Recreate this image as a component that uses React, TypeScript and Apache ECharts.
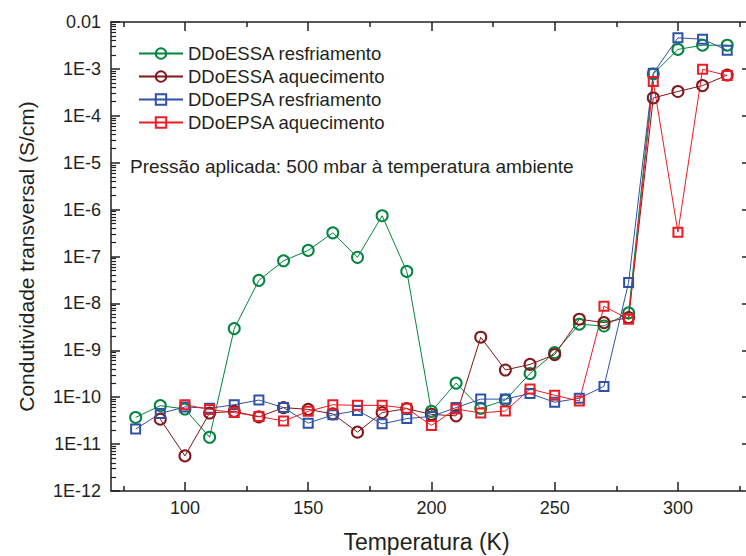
import React, { useEffect, useRef } from "react";
import * as echarts from "echarts";

// Temperature steps (K) shared by all four runs
const temperatures = [80, 90, 100, 110, 120, 130, 140, 150, 160, 170, 180, 190, 200, 210, 220, 230, 240, 250, 260, 270, 280, 290, 300, 310, 320];

// Transverse conductivity (S/cm); null = no measurement at that temperature
const ddoessaResfriamento = [3.7e-11, 6.6e-11, 5.6e-11, 1.4e-11, 2.9e-9, 3.1e-8, 8.1e-8, 1.35e-7, 3.2e-7, 9.6e-8, 7.4e-7, 4.8e-8, 5.0e-11, 2.0e-10, 5.8e-11, 8.7e-11, 3.2e-10, 8.9e-10, 3.6e-9, 3.3e-9, 6.3e-9, 7.8e-4, 2.6e-3, 3.2e-3, 3.2e-3];
const ddoessaAquecimento = [null, 3.4e-11, 5.6e-12, 4.6e-11, 5.0e-11, 3.8e-11, 6.0e-11, 5.5e-11, 4.4e-11, 1.8e-11, 4.7e-11, 5.7e-11, 4.3e-11, 4.0e-11, 1.9e-9, 3.8e-10, 5.0e-10, 8.1e-10, 4.6e-9, 3.9e-9, 5.0e-9, 2.4e-4, 3.3e-4, 4.4e-4, 7.4e-4];
const ddoepsaResfriamento = [2.1e-11, 4.5e-11, 6.2e-11, 5.8e-11, 6.9e-11, 8.7e-11, 6.0e-11, 2.8e-11, 4.2e-11, 5.2e-11, 2.7e-11, 3.5e-11, 3.9e-11, 6.0e-11, 9.1e-11, 9.1e-11, 1.2e-10, 7.8e-11, 9.5e-11, 1.7e-10, 2.8e-8, 8.1e-4, 4.6e-3, 4.3e-3, 2.5e-3];
const ddoepsaAquecimento = [null, null, 6.9e-11, 5.5e-11, 4.7e-11, 3.9e-11, 3.1e-11, 5.0e-11, 6.9e-11, 6.7e-11, 6.7e-11, 5.8e-11, 2.5e-11, 5.6e-11, 4.6e-11, 5.1e-11, 1.5e-10, 1.1e-10, 8.3e-11, 8.7e-9, 4.6e-9, 5.4e-4, 3.3e-7, 9.8e-4, 7.2e-4];

const seriesNames = ["DDoESSA resfriamento", "DDoESSA aquecimento", "DDoEPSA resfriamento", "DDoEPSA aquecimento"];

// Axis ticks
const xTickValues = [100, 150, 200, 250, 300];
const xMinorTickValues = [75, 125, 175, 225, 275, 325];
const yTickValues = [1e-12, 1e-11, 1e-10, 1e-9, 1e-8, 1e-7, 1e-6, 1e-5, 1e-4, 1e-3, 1e-2];
const yTickLabels = ["1E-12", "1E-11", "1E-10", "1E-9", "1E-8", "1E-7", "1E-6", "1E-5", "1E-4", "1E-3", "0.01"];

const annotation = "Pressão aplicada: 500 mbar à temperatura ambiente";

const FONT = "'Liberation Sans', Arial, Helvetica, sans-serif";
const INK = "#231f20";
const COLORS = ["#00853e", "#821619", "#2f52a8", "#ed1c24"];

// 2..9 × 10^k minor ticks for each decade of the log axis
const yMinorTickValues: number[] = [];
for (let k = -12; k < -2; k++) {
  for (let m = 2; m <= 9; m++) yMinorTickValues.push(m * Math.pow(10, k));
}

function yLabel(v: number): string {
  const lv = Math.log10(v);
  const idx = yTickValues.findIndex((t) => Math.abs(Math.log10(t) - lv) < 1e-6);
  return idx >= 0 ? yTickLabels[idx] : "";
}

function makeSeries(name: string, values: (number | null)[], color: string, symbol: string) {
  return {
    type: "line",
    name,
    xAxisIndex: 0,
    yAxisIndex: 0,
    data: temperatures
      .map((t, i) => (values[i] == null ? null : [t, values[i]]))
      .filter((p) => p !== null),
    symbol,
    symbolSize: symbol === "circle" ? 11 : 9,
    lineStyle: { color, width: 1 },
    itemStyle: { color: "rgba(255,255,255,0)", borderColor: color, borderWidth: 2 },
    emphasis: { disabled: true },
    z: 3,
  };
}

const lineStyle = { color: INK, width: 1.5 };

function xAxisFor(position: "bottom" | "top", major: boolean, extra: any = {}) {
  return {
    type: "value",
    position,
    min: 70,
    max: 326,
    axisLine: { show: major, onZero: false, lineStyle },
    axisTick: {
      show: true,
      inside: true,
      length: major ? 9 : 5,
      customValues: major ? xTickValues : xMinorTickValues,
      lineStyle,
    },
    axisLabel: { show: false },
    splitLine: { show: false },
    ...extra,
  };
}

function yAxisFor(position: "left" | "right", kind: "major" | "minor" | "outer", extra: any = {}) {
  return {
    type: "log",
    logBase: 10,
    position,
    min: 1e-12,
    max: 1e-2,
    axisLine: { show: kind === "major", onZero: false, lineStyle },
    axisTick: {
      show: true,
      inside: kind !== "outer",
      length: kind === "major" ? 9 : kind === "minor" ? 5 : 4,
      customValues: kind === "minor" ? yMinorTickValues : yTickValues,
      lineStyle: { color: INK, width: kind === "minor" ? 1.2 : 1.5 },
    },
    axisLabel: { show: false },
    splitLine: { show: false },
    minorTick: { show: false },
    ...extra,
  };
}

export default function App() {
  const ref = useRef<HTMLDivElement>(null);

  useEffect(() => {
    if (!ref.current) return;
    const chart = echarts.init(ref.current, undefined, { renderer: "svg" });

    chart.setOption({
      animation: false,
      backgroundColor: "#ffffff",
      textStyle: { fontFamily: FONT },
      grid: { left: 111, right: 4, top: 22, bottom: 65, containLabel: false, outerBoundsMode: "none" },
      legend: {
        orient: "vertical",
        left: 133,
        top: 39,
        itemWidth: 44,
        itemHeight: 13,
        itemGap: 4,
        selectedMode: false,
        data: seriesNames,
        textStyle: { fontFamily: FONT, fontSize: 18.5, color: INK },
      },
      xAxis: [
        xAxisFor("bottom", true, {
          name: "Temperatura (K)",
          nameLocation: "middle",
          nameGap: 39,
          nameTextStyle: { fontFamily: FONT, fontSize: 23, color: INK },
          axisLabel: {
            show: true,
            customValues: xTickValues,
            fontFamily: FONT,
            fontSize: 18,
            color: INK,
            margin: 8,
          },
        }),
        xAxisFor("bottom", false),
        xAxisFor("top", true),
        xAxisFor("top", false),
      ],
      yAxis: [
        yAxisFor("left", "major", {
          name: "Condutividade transversal (S/cm)",
          nameLocation: "middle",
          nameGap: 74,
          nameTextStyle: { fontFamily: FONT, fontSize: 21, color: INK },
          axisLabel: {
            show: true,
            customValues: yTickValues,
            formatter: (v: number) => yLabel(v),
            fontFamily: FONT,
            fontSize: 18,
            color: INK,
            margin: 10,
          },
        }),
        yAxisFor("left", "minor"),
        yAxisFor("right", "outer"),
      ],
      graphic: [
        {
          type: "text",
          left: 130,
          top: 157,
          style: { text: annotation, fontFamily: FONT, fontSize: 19, fill: INK },
        },
      ],
      series: [
        makeSeries(seriesNames[0], ddoessaResfriamento, COLORS[0], "circle"),
        makeSeries(seriesNames[1], ddoessaAquecimento, COLORS[1], "circle"),
        makeSeries(seriesNames[2], ddoepsaResfriamento, COLORS[2], "rect"),
        makeSeries(seriesNames[3], ddoepsaAquecimento, COLORS[3], "rect"),
      ],
    });

    return () => chart.dispose();
  }, []);

  return (
    <div
      ref={ref}
      style={{ position: "fixed", left: 0, top: 0, width: 746, height: 556, background: "#fff" }}
    />
  );
}
